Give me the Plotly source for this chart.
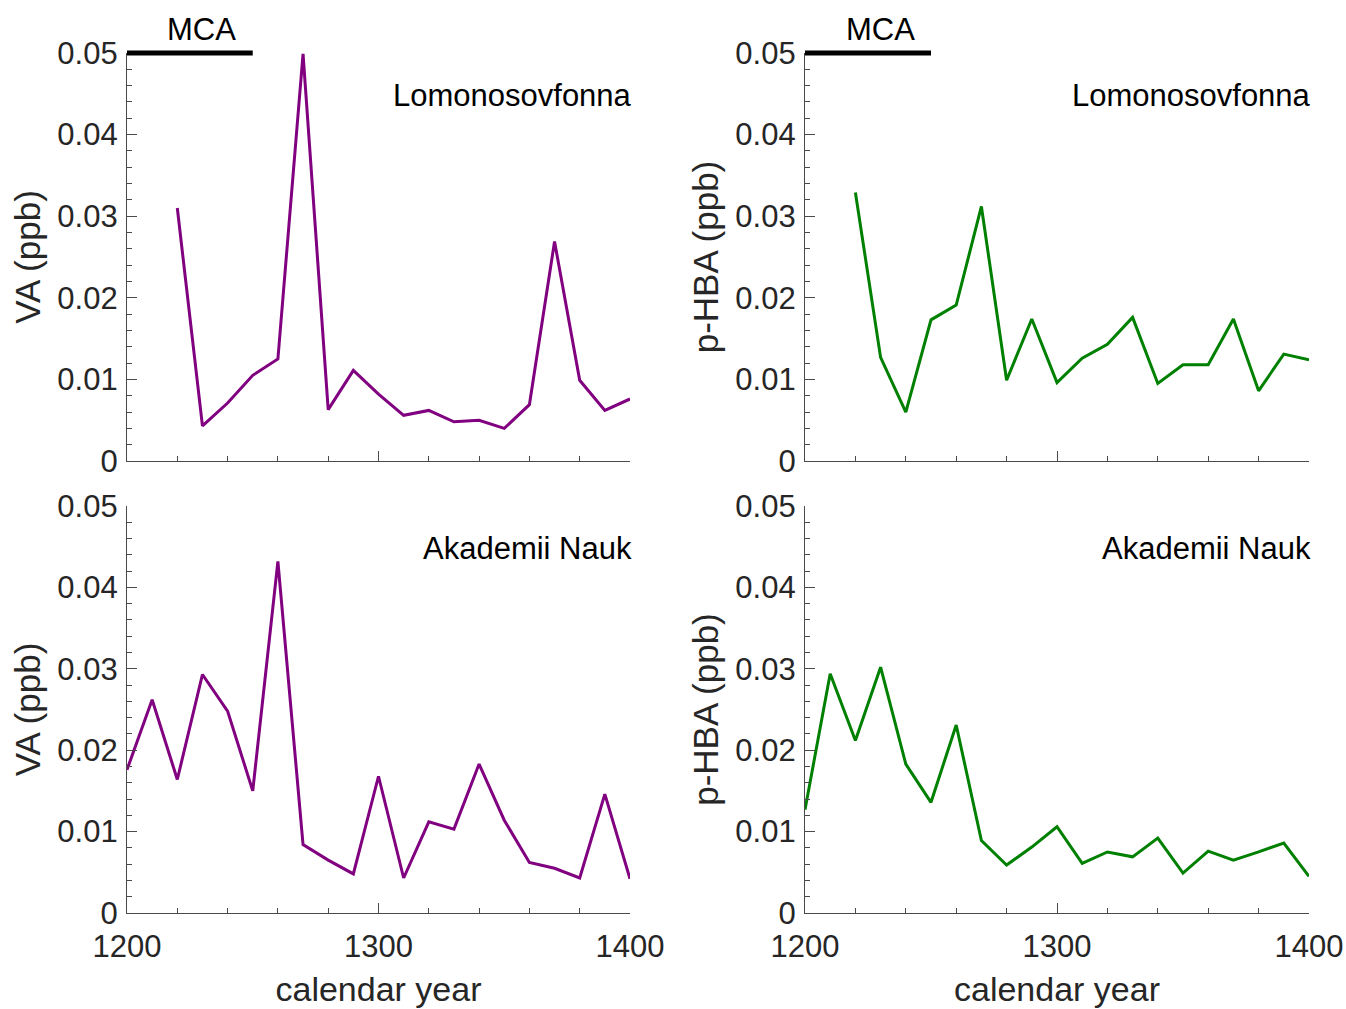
import plotly.graph_objects as go

# ---------------- data ----------------
years_lomo = [1220, 1230, 1240, 1250, 1260, 1270, 1280, 1290, 1300, 1310,
              1320, 1330, 1340, 1350, 1360, 1370, 1380, 1390, 1400]
years_an = [1200, 1210, 1220, 1230, 1240, 1250, 1260, 1270, 1280, 1290, 1300,
            1310, 1320, 1330, 1340, 1350, 1360, 1370, 1380, 1390, 1400]

va_lomo = [0.0310, 0.0043, 0.0071, 0.0105, 0.0125, 0.0499, 0.0063, 0.0111,
           0.0082, 0.0056, 0.0062, 0.0048, 0.0050, 0.0040, 0.0069, 0.0269,
           0.0099, 0.0062, 0.0076]
phba_lomo = [0.0329, 0.0127, 0.0060, 0.0173, 0.0191, 0.0312, 0.0099, 0.0174,
             0.0096, 0.0126, 0.0143, 0.0176, 0.0095, 0.0118, 0.0118, 0.0174,
             0.0086, 0.0131, 0.0124]
va_an = [0.0176, 0.0262, 0.0164, 0.0293, 0.0248, 0.0150, 0.0432, 0.0084,
         0.0065, 0.0048, 0.0168, 0.0043, 0.0112, 0.0103, 0.0183, 0.0114,
         0.0062, 0.0055, 0.0043, 0.0146, 0.0042]
phba_an = [0.0127, 0.0294, 0.0212, 0.0302, 0.0183, 0.0136, 0.0231, 0.0089,
           0.0059, 0.0081, 0.0106, 0.0061, 0.0075, 0.0069, 0.0092, 0.0049,
           0.0076, 0.0065, 0.0075, 0.0086, 0.0045]

x_range = [1200, 1400]
y_range = [0, 0.05]
mca_period = [1200, 1250]
sites = ["Lomonosovfonna", "Akademii Nauk"]
y_titles = ["VA (ppb)", "p-HBA (ppb)"]
x_title = "calendar year"

PURPLE = "#800080"
GREEN = "#008000"
TXT = "#262626"
AX = "#4a4a4a"
FONT = "Liberation Sans, Arial, sans-serif"

fig = go.Figure()

panels = [
    ("x", "y", years_lomo, va_lomo, PURPLE, sites[0], y_titles[0], False, True),
    ("x2", "y2", years_lomo, phba_lomo, GREEN, sites[0], y_titles[1], False, True),
    ("x3", "y3", years_an, va_an, PURPLE, sites[1], y_titles[0], True, False),
    ("x4", "y4", years_an, phba_an, GREEN, sites[1], y_titles[1], True, False),
]

W, H = 1346, 1009
xdom = [[127 / W, 630 / W], [805 / W, 1309 / W]]
ydom_top = [1 - 461 / H, 1 - 53 / H]
ydom_bot = [1 - 913 / H, 1 - 506 / H]
domains = [
    (xdom[0], ydom_top), (xdom[1], ydom_top),
    (xdom[0], ydom_bot), (xdom[1], ydom_bot),
]

layout = dict(
    width=W, height=H,
    margin=dict(l=0, r=0, t=0, b=0, autoexpand=False),
    paper_bgcolor="white", plot_bgcolor="white",
    showlegend=False,
    font=dict(family=FONT, color=TXT),
    annotations=[], shapes=[],
)

for i, (xa, ya, xs, ys, col, site, ytitle, bottom, mca) in enumerate(panels):
    fig.add_trace(go.Scatter(x=xs, y=ys, mode="lines", xaxis=xa, yaxis=ya,
                             line=dict(color=col, width=3)))
    xd, yd = domains[i]
    xkey = "xaxis" + xa[1:]
    ykey = "yaxis" + ya[1:]
    layout[xkey] = dict(
        domain=xd, anchor=ya, range=x_range, automargin=False,
        showline=True, linecolor=AX, linewidth=1.3,
        showgrid=False, zeroline=False,
        ticks="inside", ticklen=10, tickwidth=1.3, tickcolor=AX,
        tickmode="linear", tick0=1200, dtick=100,
        showticklabels=bottom,
        tickfont=dict(size=31, color=TXT, family=FONT),
        ticklabelstandoff=6,
        minor=dict(ticks="inside", ticklen=5, tickwidth=1.2, tickcolor=AX,
                   dtick=20, tick0=1200),
        title=dict(text=x_title if bottom else "",
                   font=dict(size=34, color=TXT, family=FONT), standoff=13),
    )
    layout[ykey] = dict(
        domain=yd, anchor=xa, range=y_range, automargin=False,
        showline=True, linecolor=AX, linewidth=1.3,
        showgrid=False, zeroline=False,
        ticks="inside", ticklen=10, tickwidth=1.3, tickcolor=AX,
        tickmode="linear", tick0=0, dtick=0.01,
        tickfont=dict(size=31, color=TXT, family=FONT),
        ticklabelstandoff=2,
        minor=dict(ticks="inside", ticklen=5, tickwidth=1.2, tickcolor=AX,
                   dtick=0.002, tick0=0),
        title=dict(text=ytitle, font=dict(size=35, color=TXT, family=FONT),
                   standoff=6),
    )
    layout["annotations"].append(dict(
        text=site, xref=xa + " domain", yref=ya + " domain",
        x=1, y=1, xanchor="right", yanchor="middle", yshift=-42, xshift=4,
        showarrow=False, font=dict(size=31, color="black", family=FONT)))
    if mca:
        f0 = (mca_period[0] - x_range[0]) / (x_range[1] - x_range[0])
        f1 = (mca_period[1] - x_range[0]) / (x_range[1] - x_range[0])
        layout["shapes"].append(dict(
            type="line", xref=xa + " domain", yref=ya + " domain",
            x0=f0, x1=f1, y0=1, y1=1, line=dict(color="black", width=5)))
        layout["annotations"].append(dict(
            text="MCA", xref=xa + " domain", yref=ya + " domain",
            x=(f0 + f1) / 2, y=1, xanchor="center", yanchor="bottom",
            yshift=4, xshift=12, showarrow=False,
            font=dict(size=31, color="black", family=FONT)))

fig.update_layout(**layout)
fig.write_html("out.html")
